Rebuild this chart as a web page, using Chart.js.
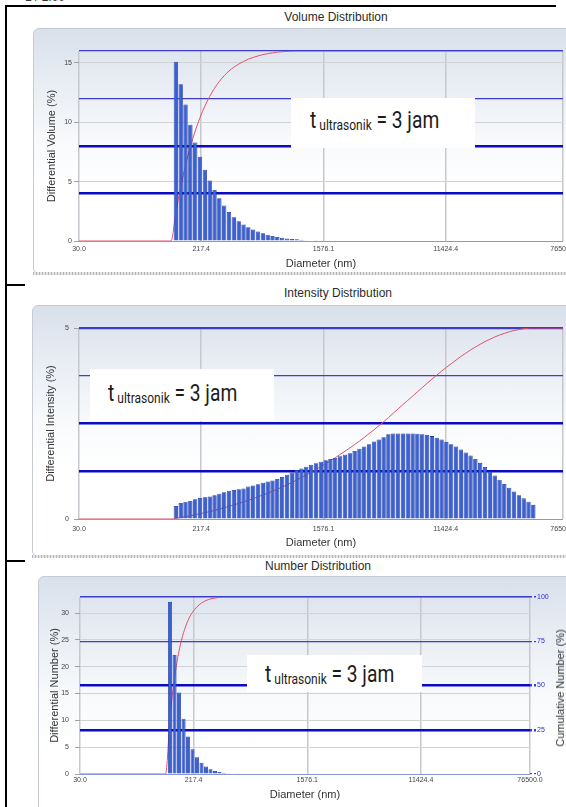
<!DOCTYPE html>
<html><head><meta charset="utf-8">
<script src="https://cdn.jsdelivr.net/npm/chart.js@4.4.1/dist/chart.umd.min.js"></script>
<style>
html,body{margin:0;padding:0;background:#fff;width:566px;height:807px;overflow:hidden;position:relative;font-family:"Liberation Sans",Arial,sans-serif;}
.box{position:absolute;border:1px solid #c6cbd3;border-radius:6px;background:linear-gradient(to bottom,#d8e0eb 0%,#e7ecf3 20%,#f7f9fb 45%,#ffffff 65%);box-sizing:border-box;}
.dots{position:absolute;height:3px;background:repeating-linear-gradient(90deg,#b5b5b5 0 1px,#e4e4e4 1px 3px);}
.black{position:absolute;background:#000;z-index:6;}
.title{position:absolute;font-size:12px;line-height:14px;color:#2b2b2b;transform:translateX(-50%);white-space:nowrap;}
.note{position:absolute;background:#fff;z-index:5;}
.note .t{position:absolute;white-space:nowrap;font-family:Roboto,"DejaVu Sans",sans-serif;font-size:24px;line-height:24px;color:#1c1c1c;transform:scaleX(0.8);transform-origin:0 50%;}
.note sub{font-size:15px;vertical-align:-2px;line-height:0;}
.rtitle{position:absolute;font-size:11px;color:#333;white-space:nowrap;transform:translate(-50%,-50%) rotate(-90deg);}
canvas{position:absolute;}
</style></head><body>

<div style="position:absolute;left:25px;top:-10px;font-size:12px;color:#333;">1 / 2.00</div>
<div class="black" style="left:5px;top:5px;width:551px;height:2px;"></div>
<div class="black" style="left:5px;top:5px;width:2px;height:802px;"></div>
<div class="black" style="left:5px;top:284px;width:20px;height:2px;"></div>
<div class="black" style="left:5px;top:560px;width:20px;height:2px;"></div>

<div class="title" style="left:336px;top:10px;">Volume Distribution</div>
<div class="box" style="left:33px;top:28px;width:600px;height:246px;"></div>
<div class="dots" style="left:33px;top:272px;width:540px;"></div>
<canvas id="c1" width="533" height="245" style="left:33px;top:28px;width:533px;height:245px;"></canvas>
<div class="note" style="left:291px;top:98px;width:184px;height:50px;"><span class="t" style="left:19px;top:10px;">t<sub> ultrasonik</sub> = 3 jam</span></div>

<div class="title" style="left:338px;top:286px;">Intensity Distribution</div>
<div class="box" style="left:32px;top:305px;width:600px;height:252px;"></div>
<div class="dots" style="left:32px;top:555px;width:540px;"></div>
<canvas id="c2" width="534" height="251" style="left:32px;top:305px;width:534px;height:251px;"></canvas>
<div class="note" style="left:90px;top:369px;width:184px;height:52px;"><span class="t" style="left:18px;top:12px;">t<sub> ultrasonik</sub> = 3 jam</span></div>

<div class="title" style="left:318px;top:559px;">Number Distribution</div>
<div class="box" style="left:38px;top:576px;width:600px;height:260px;"></div>
<canvas id="c3" width="528" height="231" style="left:38px;top:576px;width:528px;height:231px;"></canvas>
<div class="note" style="left:247px;top:655px;width:175px;height:37px;"><span class="t" style="left:18px;top:7px;">t<sub> ultrasonik</sub> = 3 jam</span></div>
<div class="rtitle" style="left:560px;top:688px;">Cumulative Number (%)</div>

<script>
// ---- data ----
const tickDiameters = [30.0, 217.4, 1576.1, 11424.4, 76500.0];
const tickLabels = ['30.0', '217.4', '1576.1', '11424.4', '76500.0'];

const binDiameters = [133.3, 144.2, 155.9, 168.6, 182.4, 197.3, 213.3, 230.7, 249.5, 269.8,
  291.8, 315.6, 341.2, 369.0, 399.1, 431.6, 466.7, 504.7, 545.8, 590.2,
  638.3, 690.3, 746.5, 807.2, 873.0, 944.1, 1021.0, 1104.1, 1194.0, 1291.2,
  1396.3, 1510.0, 1633.0, 1766.0, 1909.7, 2065.2, 2233.4, 2415.3, 2611.9, 2824.6,
  3054.6, 3303.3, 3572.4, 3863.2, 4177.8, 4518.0, 4885.9, 5283.7, 5714.0, 6179.3,
  6682.4, 7226.6, 7815.0, 8451.5, 9139.7, 9883.9, 10688.8, 11559.2, 12500.5, 13518.4,
  14619.2, 15809.6, 17097.0, 18489.2, 19994.8, 21623.0, 23383.7, 25287.9, 27347.1, 29573.9,
  31982.1, 34586.4, 37402.8, 40448.4, 43742.1, 47304.0];

const volumeDiff = [0, 15.1, 13.2, 11.5, 9.8, 8.3, 7.1, 6.0, 5.1, 4.3, 3.6, 3.0, 2.45, 2.0, 1.67,
  1.38, 1.16, 0.96, 0.8, 0.66, 0.53, 0.43, 0.34, 0.27, 0.22, 0.18, 0.14, 0.1, 0.07, 0.05, 0.03];
const volumeCum = [0, 15.1, 28.3, 39.8, 49.6, 57.9, 65.0, 71.0, 76.1, 80.4, 84.0, 87.0, 89.5, 91.5,
  93.1, 94.5, 95.7, 96.6, 97.4, 98.1, 98.6, 99.0, 99.4, 99.6, 99.8, 99.9, 100];

const intensityDiff = [0, 0.34, 0.42, 0.45, 0.47, 0.52, 0.55, 0.57, 0.59, 0.62, 0.66, 0.70, 0.74,
  0.76, 0.78, 0.80, 0.85, 0.88, 0.91, 0.95, 0.98, 1.01, 1.05, 1.10, 1.16, 1.22, 1.28, 1.32, 1.37,
  1.42, 1.46, 1.50, 1.54, 1.57, 1.60, 1.64, 1.68, 1.72, 1.78, 1.84, 1.90, 1.96, 2.03, 2.08, 2.14,
  2.22, 2.24, 2.24, 2.24, 2.24, 2.24, 2.23, 2.22, 2.20, 2.17, 2.13, 2.08, 2.02, 1.96, 1.90, 1.82,
  1.74, 1.66, 1.57, 1.47, 1.36, 1.25, 1.14, 1.03, 0.92, 0.82, 0.72, 0.62, 0.54, 0.45, 0.37];
const intensityCum = [0, 0.3, 0.8, 1.2, 1.7, 2.2, 2.8, 3.3, 3.9, 4.5, 5.2, 5.9, 6.6, 7.4, 8.2, 9.0,
  9.8, 10.7, 11.6, 12.6, 13.5, 14.6, 15.6, 16.7, 17.9, 19.1, 20.4, 21.7, 23.1, 24.5, 25.9, 27.4,
  29.0, 30.5, 32.1, 33.8, 35.5, 37.2, 39.0, 40.8, 42.7, 44.7, 46.7, 48.8, 50.9, 53.1, 55.4, 57.6,
  59.9, 62.1, 64.3, 66.6, 68.8, 71.0, 73.2, 75.3, 77.4, 79.4, 81.3, 83.2, 85.1, 86.8, 88.5, 90.0,
  91.5, 92.9, 94.1, 95.3, 96.3, 97.2, 98.0, 98.7, 99.2, 99.6, 99.9, 100];

const numberDiff = [0, 32.1, 22.2, 15.2, 10.3, 7.0, 4.6, 3.1, 2.1, 1.4, 0.9, 0.55, 0.35, 0.2, 0.12, 0.08, 0.05];
const numberCum = [0, 32.1, 54.3, 69.5, 79.8, 86.8, 91.4, 94.5, 96.6, 98.0, 98.9, 99.4, 99.8, 100];

const volumeYTicksMax = 16, intensityYTicksMax = 5, numberYTicksMax = 33;

// ---- drawing ----
const FAM = '"Liberation Sans", Arial, sans-serif';
const lg = Math.log10;

function makePanel(id, p) {
  const bars = p.diff.map((v, i) => ({x: lg(binDiameters[i]), y: v}));
  const cum = [{x: lg(tickDiameters[0]), y: 0}]
    .concat(p.cum.map((v, i) => ({x: lg(binDiameters[i]), y: v})))
    .concat([{x: lg(tickDiameters[tickDiameters.length - 1]), y: 100}]);
  new Chart(document.getElementById(id), {
    data: {datasets: [
      {type: 'bar', data: bars, yAxisID: 'y', backgroundColor: '#3b60d3', borderColor: '#1e3a9e',
       borderWidth: 0.8, borderSkipped: 'bottom', barPercentage: 0.9, categoryPercentage: 1, order: 1},
      {type: 'line', data: cum, yAxisID: 'yR', borderColor: '#e4506a', borderWidth: 1,
       pointRadius: 0, cubicInterpolationMode: 'monotone', order: 2}
    ]},
    options: {
      responsive: false, animation: false, devicePixelRatio: 1,
      layout: {padding: {top: p.top, left: 0, right: 0, bottom: 0}},
      plugins: {legend: {display: false}, tooltip: {enabled: false}},
      scales: {
        x: {type: 'linear', offset: false, min: lg(tickDiameters[0]), max: lg(tickDiameters[tickDiameters.length - 1]), z: 1,
          afterBuildTicks: s => { s.ticks = tickDiameters.map(d => ({value: lg(d)})); },
          afterFit: s => { s.height = p.xH; s.paddingLeft = 0; s.paddingRight = 0; },
          ticks: {autoSkip: false, maxRotation: 0, padding: p.xPad, color: '#444',
            font: {family: FAM, size: 7}, callback: (v, i) => tickLabels[i]},
          grid: {offset: false, color: '#c6c8ce', lineWidth: 1.5, drawTicks: false},
          border: {display: false},
          title: {display: true, text: 'Diameter (nm)', color: '#333', font: {family: FAM, size: 11},
            padding: {top: 0, bottom: p.xTitlePad}}
        },
        y: {position: 'left', min: 0, max: p.yMax,
          afterFit: s => { s.width = p.yW; },
          ticks: {stepSize: p.yStep, includeBounds: false, padding: p.yPad, color: '#444',
            font: {family: FAM, size: 7}},
          grid: {color: c => (c.tick && c.tick.value === 0) ? '#8797d4' : '#d3d3d3', lineWidth: 1,
            tickLength: 5, tickColor: '#a0a0a0'},
          border: {display: false},
          title: {display: true, text: p.yTitle, color: '#333', font: {family: FAM, size: 11},
            padding: {top: p.yTitlePad, bottom: 0}}
        },
        yR: {position: 'right', min: 0, max: 100, z: 1,
          afterFit: s => { s.width = p.yRW; },
          ticks: {stepSize: 25, display: p.showR, padding: 1, color: '#2b2bd0', font: {family: FAM, size: 7}},
          grid: {
            color: c => { const v = c.tick ? c.tick.value : -1;
              return v === 0 ? 'rgba(0,0,0,0)' : (v === 25 || v === 50) ? '#0b0bc4' : '#3d3dcc'; },
            lineWidth: c => { const v = c.tick ? c.tick.value : -1;
              return (v === 25 || v === 50) ? 2.5 : (v === 100 ? p.topW : 1.2); },
            drawTicks: p.showR, tickLength: 6, tickColor: '#3d3dcc', tickBorderDash: [2, 2]},
          border: {display: false}
        }
      }
    }
  });
}

makePanel('c1', {diff: volumeDiff, cum: volumeCum, yMax: volumeYTicksMax, yStep: 5,
  yTitle: 'Differential Volume (%)', top: 23, xH: 32, yW: 46, yRW: 3, xPad: 4, xTitlePad: 2,
  yPad: 2, yTitlePad: 12, showR: false, topW: 1.2});
makePanel('c2', {diff: intensityDiff, cum: intensityCum, yMax: intensityYTicksMax, yStep: 5,
  yTitle: 'Differential Intensity (%)', top: 23, xH: 37, yW: 47, yRW: 3, xPad: 6, xTitlePad: 6,
  yPad: 5, yTitlePad: 12, showR: false, topW: 2.2});
makePanel('c3', {diff: numberDiff, cum: numberCum, yMax: numberYTicksMax, yStep: 5,
  yTitle: 'Differential Number (%)', top: 21, xH: 33, yW: 42, yRW: 36, xPad: 2, xTitlePad: 5,
  yPad: 6, yTitlePad: 10, showR: true, topW: 1.5});
</script>
</body></html>
